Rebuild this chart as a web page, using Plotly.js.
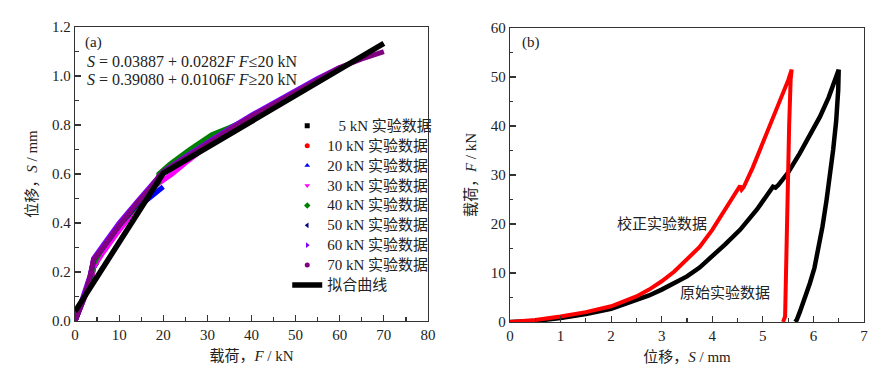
<!DOCTYPE html>
<html>
<head>
<meta charset="utf-8">
<script src="https://cdn.plot.ly/plotly-3.0.1.min.js"></script>
<style>html,body{margin:0;padding:0;background:#fff;}#chart{width:892px;height:381px;}</style>
</head>
<body>
<div id="chart"></div>
<script>
// ---------- Panel (a): load F (kN) vs displacement S (mm) ----------
const seriesNames = ['\u2007 5 kN 实验数据', '10 kN 实验数据', '20 kN 实验数据', '30 kN 实验数据',
                     '40 kN 实验数据', '50 kN 实验数据', '60 kN 实验数据', '70 kN 实验数据'];
const seriesColors = ['#000000', '#ff0000', '#0000ff', '#ff00ff', '#008000', '#000080', '#8000ff', '#800080'];
const seriesSymbols = ['square', 'circle', 'triangle-up', 'triangle-down', 'diamond', 'triangle-left', 'triangle-right', 'circle'];

const f5  = [0, 1, 2, 3, 3.8, 4.2, 5];
const s5  = [0, 0.04, 0.09, 0.14, 0.17, 0.22, 0.24];
const f10 = [0, 1, 2, 3, 3.8, 4.2, 6, 8, 10];
const s10 = [0, 0.04, 0.09, 0.14, 0.18, 0.23, 0.28, 0.33, 0.37];
const f20 = [0, 2, 3.5, 4.0, 6, 10, 14, 16, 18, 20];
const s20 = [0, 0.09, 0.16, 0.21, 0.28, 0.38, 0.46, 0.49, 0.52, 0.548];
const f30 = [0, 2, 3.6, 4.2, 6, 10, 14, 18, 20, 22, 25, 28, 30];
const s30 = [0, 0.085, 0.16, 0.22, 0.27, 0.37, 0.46, 0.55, 0.575, 0.60, 0.645, 0.69, 0.715];
const f40 = [0, 2, 3.6, 4.1, 6, 10, 14, 17, 18.9, 19.0, 21.5, 26, 31, 35, 40];
const s40 = [0, 0.09, 0.17, 0.23, 0.29, 0.39, 0.47, 0.53, 0.565, 0.60, 0.64, 0.70, 0.76, 0.79, 0.83];
const f50 = [0, 2.3, 3.4, 3.8, 4.2, 6.4, 10, 14, 17, 19, 20, 25, 30, 35, 40, 45, 50];
const s50 = [0, 0.11, 0.18, 0.21, 0.25, 0.30, 0.39, 0.475, 0.535, 0.585, 0.605, 0.66, 0.72, 0.775, 0.83, 0.88, 0.93];
const f60 = [0, 2.3, 3.4, 3.8, 4.2, 6.4, 10, 14, 17, 19, 20, 25, 30, 35, 40, 45, 50, 55, 60];
const s60 = [0, 0.115, 0.185, 0.215, 0.255, 0.31, 0.40, 0.485, 0.545, 0.59, 0.61, 0.67, 0.73, 0.785, 0.84, 0.89, 0.945, 0.99, 1.035];
const f70 = [0, 2.3, 3.4, 3.8, 4.2, 6.4, 10, 14, 17, 19, 20, 25, 30, 35, 40, 45, 50, 55, 60, 65, 70];
const s70 = [0, 0.11, 0.18, 0.21, 0.25, 0.30, 0.39, 0.48, 0.54, 0.59, 0.61, 0.665, 0.725, 0.78, 0.835, 0.885, 0.94, 0.99, 1.035, 1.07, 1.10];
const seriesF = [f5, f10, f20, f30, f40, f50, f60, f70];
const seriesS = [s5, s10, s20, s30, s40, s50, s60, s70];

const fitName = '拟合曲线';
const fitF = [0, 20, 70];
const fitS = [0.0389, 0.603, 1.133];

// ---------- Panel (b): displacement S (mm) vs load F (kN) ----------
const corrS = [0, 0.5, 1.0, 1.5, 2.0, 2.25, 2.5, 2.75, 3.0, 3.25, 3.5, 3.75, 4.0, 4.25, 4.55, 4.58, 4.62, 4.8, 5.0, 5.2, 5.4, 5.5, 5.57,
               5.55, 5.52, 5.50, 5.48, 5.47, 5.45, 5.44, 5.40];
const corrF = [0, 0.4, 1.1, 2.0, 3.2, 4.1, 5.2, 6.6, 8.3, 10.3, 12.7, 15.3, 18.8, 23.0, 27.8, 27.0, 27.5, 31.5, 36.5, 41.5, 46.3, 49.3, 51.5,
               49.5, 40.0, 28.3, 15.0, 7.9, 3.0, 1.1, 0];
const origS = [0, 0.5, 1.0, 1.5, 2.0, 2.5, 2.75, 3.0, 3.25, 3.5, 3.75, 4.0, 4.25, 4.55, 4.88, 5.2, 5.25, 5.31, 5.5, 5.73, 5.93, 6.13, 6.3, 6.5,
               6.49, 6.45, 6.39, 6.33, 6.26, 6.18, 6.10, 6.02, 5.93, 5.86, 5.80, 5.73, 5.67, 5.64];
const origF = [0, 0.2, 0.8, 1.6, 2.7, 4.4, 5.4, 6.6, 7.9, 9.3, 11.1, 13.3, 15.8, 18.8, 22.9, 27.6, 27.4, 28.0, 30.5, 34.4, 38.2, 41.9, 45.8, 51.5,
               47.3, 41.0, 35.1, 30.0, 24.9, 19.5, 14.7, 11.0, 7.9, 5.6, 3.8, 2.0, 0.4, 0];
const labelCorr = '校正实验数据';
const labelOrig = '原始实验数据';

const FONT = "'Liberation Serif', 'Times New Roman', 'Noto Sans CJK SC', serif";

const traces = [];
for (let i = 0; i < seriesF.length; i++) {
  traces.push({
    x: seriesF[i], y: seriesS[i], type: 'scatter', mode: 'lines',
    line: {color: seriesColors[i], width: 5},
    showlegend: false, xaxis: 'x', yaxis: 'y', hoverinfo: 'skip'
  });
}
for (let i = 0; i < seriesF.length; i++) {
  traces.push({
    x: [null], y: [null], type: 'scatter', mode: 'markers',
    name: '<span style="font-size:15px">' + seriesNames[i] + '</span>',
    marker: {color: seriesColors[i], symbol: seriesSymbols[i], size: 5},
    xaxis: 'x', yaxis: 'y'
  });
}
traces.push({
  x: fitF, y: fitS, type: 'scatter', mode: 'lines',
  name: '<span style="font-size:15px">' + fitName + '</span>',
  line: {color: '#000000', width: 5.5}, xaxis: 'x', yaxis: 'y'
});
traces.push({
  x: origS, y: origF, type: 'scatter', mode: 'lines', name: labelOrig,
  line: {color: '#000000', width: 4.5}, showlegend: false, xaxis: 'x2', yaxis: 'y2'
});
traces.push({
  x: corrS, y: corrF, type: 'scatter', mode: 'lines', name: labelCorr,
  line: {color: '#ff0000', width: 4}, showlegend: false, xaxis: 'x2', yaxis: 'y2'
});

const tfont = {family: FONT, size: 15, color: '#222'};
function axis(extra) {
  return Object.assign({
    showgrid: false, zeroline: false, showline: true, linecolor: '#333', linewidth: 1.3,
    mirror: true, ticks: 'inside', ticklen: 6, tickwidth: 1.2, tickcolor: '#333',
    tickfont: tfont
  }, extra);
}

const layout = {
  width: 892, height: 381,
  margin: {l: 0, r: 0, t: 0, b: 0},
  paper_bgcolor: '#fff', plot_bgcolor: '#fff',
  font: tfont,
  showlegend: true,
  legend: {x: 0.322, y: 0.709, xanchor: 'left', yanchor: 'top', bgcolor: 'rgba(0,0,0,0)',
           font: {family: FONT, size: 13, color: '#222'}, tracegroupgap: 0, itemwidth: 30},
  xaxis: axis({domain: [0.0841, 0.4798], range: [0, 80], dtick: 10, anchor: 'y',
               minor: {dtick: 5, ticklen: 3.5, ticks: 'inside', tickcolor: '#333'},
               title: {text: '载荷，<i>F</i> / kN', standoff: 8, font: tfont}}),
  yaxis: axis({domain: [0.1575, 0.929], range: [0, 1.2], dtick: 0.2, tickformat: '.1f', anchor: 'x',
               minor: {dtick: 0.1, ticklen: 3.5, ticks: 'inside', tickcolor: '#333'},
               title: {text: '位移，<i>S</i> / mm', standoff: 10, font: tfont}}),
  xaxis2: axis({domain: [0.5717, 0.9686], range: [0, 7], dtick: 1, anchor: 'y2',
                minor: {dtick: 0.5, ticklen: 3.5, ticks: 'inside', tickcolor: '#333'},
                title: {text: '位移，<i>S</i> / mm', standoff: 8, font: tfont}}),
  yaxis2: axis({domain: [0.155, 0.9265], range: [0, 60], dtick: 10, anchor: 'x2',
                minor: {dtick: 5, ticklen: 3.5, ticks: 'inside', tickcolor: '#333'},
                title: {text: '载荷，<i>F</i> / kN', standoff: 10, font: tfont}}),
  annotations: [
    {xref: 'paper', yref: 'paper', x: 83 / 892, y: 1 - 42 / 381, xanchor: 'left', yanchor: 'middle',
     text: '(a)', showarrow: false, font: tfont},
    {xref: 'paper', yref: 'paper', x: 85 / 892, y: 1 - 61 / 381, xanchor: 'left', yanchor: 'middle',
     text: '<i>S</i> = 0.03887 + 0.0282<i>F</i> <i>F</i>≤20 kN', showarrow: false, font: {family: FONT, size: 16, color: '#222'}},
    {xref: 'paper', yref: 'paper', x: 85 / 892, y: 1 - 79 / 381, xanchor: 'left', yanchor: 'middle',
     text: '<i>S</i> = 0.39080 + 0.0106<i>F</i> <i>F</i>≥20 kN', showarrow: false, font: {family: FONT, size: 16, color: '#222'}},
    {xref: 'paper', yref: 'paper', x: 520 / 892, y: 1 - 43 / 381, xanchor: 'left', yanchor: 'middle',
     text: '(b)', showarrow: false, font: tfont},
    {xref: 'paper', yref: 'paper', x: 662 / 892, y: 1 - 224 / 381, xanchor: 'center', yanchor: 'middle',
     text: labelCorr, showarrow: false, font: tfont},
    {xref: 'paper', yref: 'paper', x: 725 / 892, y: 1 - 293 / 381, xanchor: 'center', yanchor: 'middle',
     text: labelOrig, showarrow: false, font: tfont}
  ]
};

Plotly.newPlot('chart', traces, layout, {staticPlot: true, displayModeBar: false});
</script>
</body>
</html>
